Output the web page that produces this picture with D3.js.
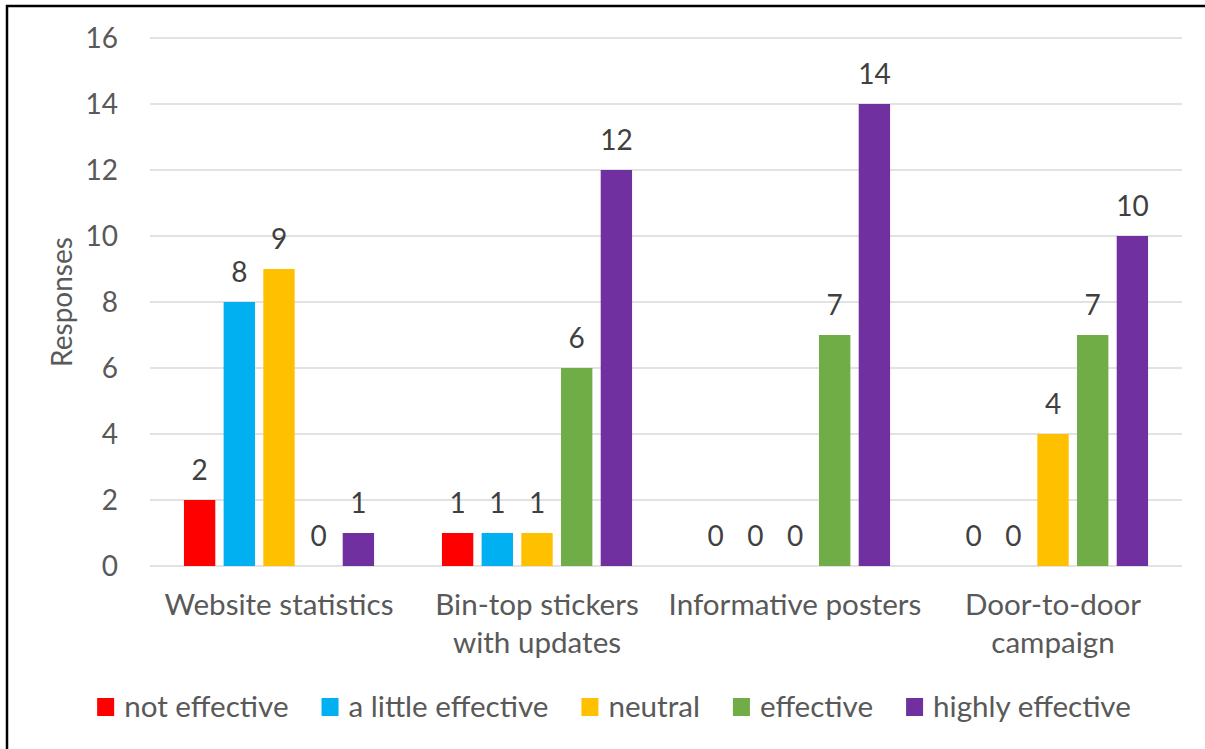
<!DOCTYPE html>
<html>
<head>
<meta charset="utf-8">
<script src="https://cdn.jsdelivr.net/npm/d3@7"></script>
<style>
  html, body { margin: 0; padding: 0; background: #fff; }
  svg { display: block; }
  text { font-family: Lato, "Open Sans", sans-serif; }
</style>
</head>
<body>
<svg id="chart" width="1205" height="749"></svg>
<script>
// Survey responses: how effective each communication channel would be
const categories = [
  "Website statistics",
  "Bin-top stickers with updates",
  "Informative posters",
  "Door-to-door campaign"
];
// Line breaks used for the category axis labels
const categoryLines = [
  ["Website statistics"],
  ["Bin-top stickers", "with updates"],
  ["Informative posters"],
  ["Door-to-door", "campaign"]
];
const seriesNames = ["not effective", "a little effective", "neutral", "effective", "highly effective"];
const notEffective      = [2, 1, 0, 0];
const aLittleEffective  = [8, 1, 0, 0];
const neutral           = [9, 1, 0, 4];
const effective         = [0, 6, 7, 7];
const highlyEffective   = [1, 12, 14, 10];
const seriesColors = ["#FF0000", "#00B0F0", "#FFC000", "#70AD47", "#7030A0"];
const yTicks = [0, 2, 4, 6, 8, 10, 12, 14, 16];
const yTitle = "Responses";

const seriesValues = [notEffective, aLittleEffective, neutral, effective, highlyEffective];

const svg = d3.select("#chart");
const textColor = "#595959";

// Outer frame
svg.append("rect")
  .attr("x", 7).attr("y", 6)
  .attr("width", 1300).attr("height", 900)
  .attr("fill", "none").attr("stroke", "#000").attr("stroke-width", 2.5);

const plot = { left: 150, right: 1182, top: 38, bottom: 566 };

const y = d3.scaleLinear().domain([0, 16]).range([plot.bottom, plot.top]);
const x0 = d3.scaleBand().domain(categories).range([plot.left, plot.right]).padding(0);
const x1 = d3.scaleBand().domain(seriesNames).range([0, x0.bandwidth()])
  .paddingInner(0.21).paddingOuter(0.855);

// Horizontal gridlines
svg.append("g")
  .selectAll("line")
  .data(yTicks)
  .join("line")
  .attr("x1", plot.left).attr("x2", plot.right)
  .attr("y1", d => y(d)).attr("y2", d => y(d))
  .attr("stroke", "#D9D9D9").attr("stroke-width", 1.5);

// Y axis labels
const yAxis = d3.axisLeft(y).tickValues(yTicks).tickSize(0).tickPadding(0);
const yg = svg.append("g").attr("transform", `translate(118,0)`).call(yAxis);
yg.select(".domain").remove();
yg.selectAll("text")
  .attr("fill", textColor)
  .style("font-size", "28px")
  .attr("dy", "0.35em");

// Y axis title
svg.append("text")
  .attr("transform", `translate(72,302) rotate(-90)`)
  .attr("text-anchor", "middle")
  .attr("fill", textColor)
  .style("font-size", "28px")
  .text(yTitle);

// Bars and value labels
const rows = [];
categories.forEach((c, ci) => {
  seriesNames.forEach((s, si) => {
    rows.push({ cat: c, series: s, value: seriesValues[si][ci], color: seriesColors[si] });
  });
});

svg.append("g")
  .selectAll("rect")
  .data(rows)
  .join("rect")
  .attr("x", d => x0(d.cat) + x1(d.series))
  .attr("y", d => y(d.value))
  .attr("width", x1.bandwidth())
  .attr("height", d => y(0) - y(d.value))
  .attr("fill", d => d.color);

svg.append("g")
  .selectAll("text")
  .data(rows)
  .join("text")
  .attr("x", d => x0(d.cat) + x1(d.series) + x1.bandwidth() / 2)
  .attr("y", d => y(d.value) - 20)
  .attr("text-anchor", "middle")
  .attr("fill", "#404040")
  .style("font-size", "28px")
  .text(d => d.value);

// Category labels
const xg = svg.append("g");
categories.forEach((c, ci) => {
  const t = xg.append("text")
    .attr("x", x0(c) + x0.bandwidth() / 2)
    .attr("y", 615)
    .attr("text-anchor", "middle")
    .attr("fill", textColor)
    .style("font-size", "29.6px");
  categoryLines[ci].forEach((line, li) => {
    t.append("tspan")
      .attr("x", x0(c) + x0.bandwidth() / 2)
      .attr("dy", li === 0 ? 0 : 38)
      .text(line);
  });
});

// Legend
const legend = svg.append("g");
const items = legend.selectAll("g")
  .data(seriesNames)
  .join("g");
items.append("rect")
  .attr("width", 17).attr("height", 18)
  .attr("y", 698)
  .attr("fill", (d, i) => seriesColors[i]);
items.append("text")
  .attr("x", 27)
  .attr("y", 717)
  .attr("fill", textColor)
  .style("font-size", "29.6px")
  .text(d => d);
const gap = 33;
let cursor = 0;
const offsets = [];
items.each(function () {
  offsets.push(cursor);
  const w = d3.select(this).select("text").node().getComputedTextLength();
  cursor += 27 + w + gap;
});
const total = cursor - gap;
const startX = 614 - total / 2;
items.attr("transform", (d, i) => `translate(${startX + offsets[i]},0)`);
</script>
</body>
</html>
